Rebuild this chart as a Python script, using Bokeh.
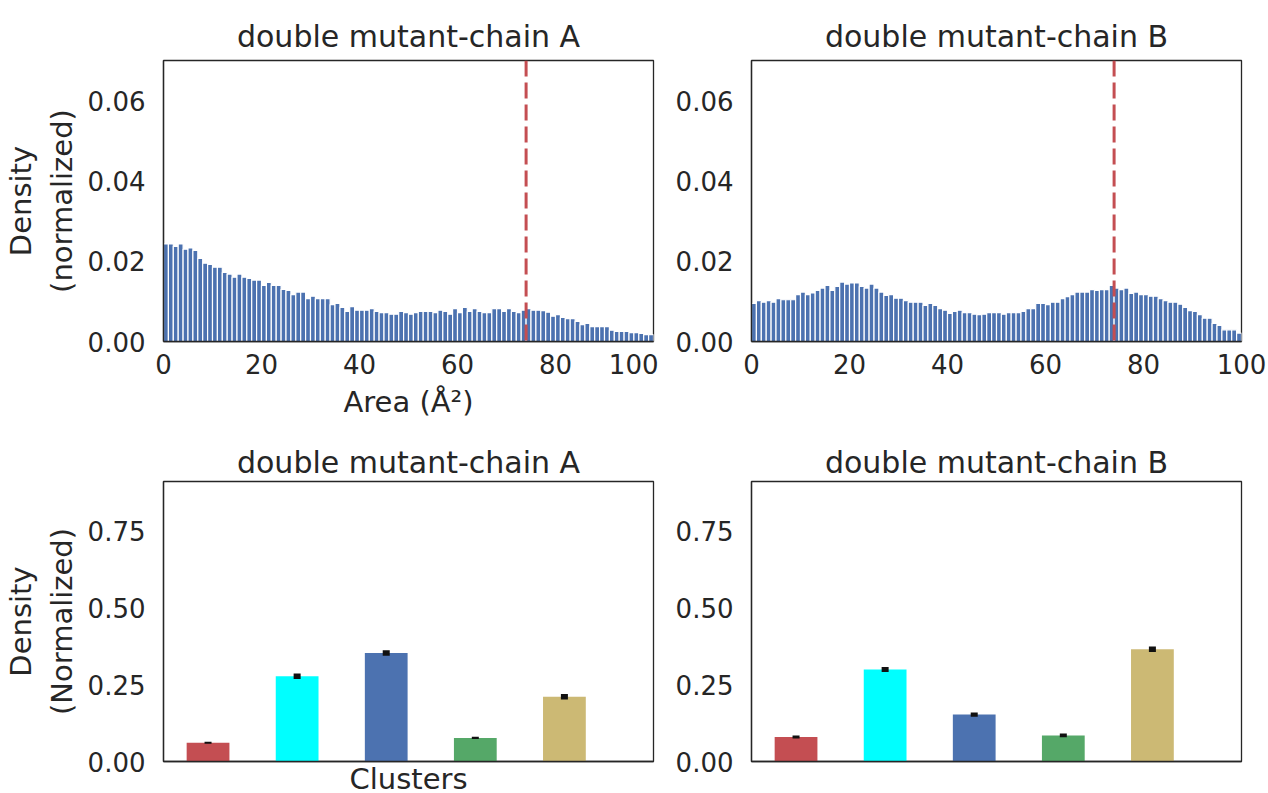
from bokeh.plotting import figure
from bokeh.layouts import column, row
from bokeh.models import Span, FixedTicker, NumeralTickFormatter, Range1d
from bokeh.embed import file_html
from bokeh.resources import INLINE

# ---------------- data ----------------
hist_titles = ["double mutant-chain A", "double mutant-chain B"]
bar_titles = ["double mutant-chain A", "double mutant-chain B"]

area_bins = list(range(100))  # bin left edges, width 1 (Å^2)

density_chain_A = [
    0.0243, 0.0243, 0.0237, 0.0243, 0.0230, 0.0233, 0.0227, 0.0207, 0.0195, 0.0192,
    0.0185, 0.0185, 0.0172, 0.0168, 0.0160, 0.0168, 0.0160, 0.0157, 0.0153, 0.0153,
    0.0140, 0.0147, 0.0140, 0.0140, 0.0130, 0.0127, 0.0117, 0.0123, 0.0123, 0.0107,
    0.0113, 0.0107, 0.0107, 0.0107, 0.0092, 0.0095, 0.0085, 0.0075, 0.0087, 0.0078,
    0.0078, 0.0078, 0.0082, 0.0075, 0.0072, 0.0072, 0.0068, 0.0068, 0.0075, 0.0072,
    0.0068, 0.0072, 0.0075, 0.0075, 0.0075, 0.0072, 0.0078, 0.0075, 0.0068, 0.0082,
    0.0072, 0.0085, 0.0075, 0.0082, 0.0075, 0.0072, 0.0072, 0.0082, 0.0082, 0.0075,
    0.0082, 0.0075, 0.0072, 0.0078, 0.0082, 0.0078, 0.0078, 0.0077, 0.0073, 0.0063,
    0.0067, 0.0060, 0.0057, 0.0057, 0.0050, 0.0042, 0.0045, 0.0037, 0.0037, 0.0037,
    0.0037, 0.0028, 0.0025, 0.0025, 0.0025, 0.0022, 0.0022, 0.0020, 0.0017, 0.0017,
]

density_chain_B = [
    0.0095, 0.0102, 0.0098, 0.0102, 0.0098, 0.0107, 0.0104, 0.0104, 0.0104, 0.0117,
    0.0123, 0.0117, 0.0121, 0.0127, 0.0133, 0.0140, 0.0127, 0.0137, 0.0148, 0.0143,
    0.0146, 0.0146, 0.0137, 0.0133, 0.0143, 0.0133, 0.0123, 0.0115, 0.0117, 0.0108,
    0.0108, 0.0102, 0.0098, 0.0098, 0.0098, 0.0090, 0.0095, 0.0090, 0.0082, 0.0078,
    0.0070, 0.0075, 0.0078, 0.0072, 0.0072, 0.0068, 0.0067, 0.0068, 0.0072, 0.0072,
    0.0072, 0.0068, 0.0072, 0.0072, 0.0072, 0.0075, 0.0082, 0.0082, 0.0095, 0.0095,
    0.0092, 0.0098, 0.0098, 0.0107, 0.0112, 0.0117, 0.0123, 0.0123, 0.0123, 0.0129,
    0.0127, 0.0129, 0.0129, 0.0140, 0.0133, 0.0129, 0.0133, 0.0120, 0.0123, 0.0117,
    0.0117, 0.0113, 0.0113, 0.0107, 0.0102, 0.0098, 0.0098, 0.0093, 0.0085, 0.0077,
    0.0075, 0.0067, 0.0058, 0.0058, 0.0045, 0.0040, 0.0029, 0.0029, 0.0029, 0.0021,
]

cutoff_area = 74

clusters = [0, 1, 2, 3, 4]
cluster_colors = ["#c44e52", "#00ffff", "#4c72b0", "#55a868", "#ccb974"]
cluster_density_A = [0.061, 0.278, 0.354, 0.077, 0.211]
cluster_err_A = [0.003, 0.009, 0.009, 0.004, 0.009]
cluster_density_B = [0.080, 0.300, 0.153, 0.085, 0.366]
cluster_err_B = [0.005, 0.008, 0.007, 0.006, 0.009]

# ---------------- style ----------------
FONT = "DejaVu Sans"
TXT = "#262626"


def style(p, title_standoff, valign):
    p.title.text_font = FONT
    p.title.text_font_size = "30px"
    p.title.text_font_style = "normal"
    p.title.text_color = TXT
    p.title.align = "center"
    p.title.vertical_align = valign
    p.title.standoff = title_standoff
    p.outline_line_color = TXT
    p.outline_line_width = 1.3
    p.xgrid.visible = False
    p.ygrid.visible = False
    for ax in (p.xaxis[0], p.yaxis[0]):
        ax.axis_line_color = TXT
        ax.axis_line_width = 1.3
        ax.major_tick_line_color = None
        ax.minor_tick_line_color = None
        ax.major_label_text_font = FONT
        ax.major_label_text_font_size = "26px"
        ax.major_label_text_color = TXT
        ax.axis_label_text_font = FONT
        ax.axis_label_text_font_size = "29px"
        ax.axis_label_text_font_style = "normal"
        ax.axis_label_text_color = TXT
    p.yaxis[0].major_label_standoff = 12
    p.xaxis[0].major_label_standoff = 6


def hist_fig(title, vals, left_border, right_border, xlabel):
    p = figure(title=title, output_backend="svg", toolbar_location=None,
               frame_width=490, frame_height=281,
               min_border_left=left_border, min_border_right=right_border,
               min_border_top=60, min_border_bottom=77,
               x_range=Range1d(0, 100), y_range=Range1d(0, 0.07))
    centers = [b + 0.5 for b in area_bins]
    p.vbar(x=centers, width=1, top=vals, bottom=0,
           fill_color="#4c72b0", line_color="white", line_width=1.2)
    p.add_layout(Span(location=cutoff_area, dimension="height",
                      line_color="#c44e52", line_width=3, line_dash="16 6"))
    style(p, 10, "top")
    p.xaxis.ticker = FixedTicker(ticks=[0, 20, 40, 60, 80, 100])
    p.yaxis.ticker = FixedTicker(ticks=[0, 0.02, 0.04, 0.06])
    p.yaxis.formatter = NumeralTickFormatter(format="0.00")
    if xlabel:
        p.xaxis.axis_label = "Area (Å²)"
        p.xaxis.axis_label_standoff = 8
        p.yaxis.axis_label = "Density\n(normalized)"
        p.yaxis.axis_label_standoff = 6
    return p


def bar_fig(title, vals, errs, left_border, right_border, labels):
    p = figure(title=title, output_backend="svg", toolbar_location=None,
               frame_width=490, frame_height=280,
               min_border_left=left_border, min_border_right=right_border,
               min_border_top=60, min_border_bottom=35,
               x_range=Range1d(-0.5, 5.0), y_range=Range1d(0, 0.913))
    p.vbar(x=clusters, width=0.48, top=vals, bottom=0,
           fill_color=cluster_colors, line_color=None)
    lo = [v - e for v, e in zip(vals, errs)]
    hi = [v + e for v, e in zip(vals, errs)]
    p.segment(x0=clusters, y0=lo, x1=clusters, y1=hi, line_color="#111111", line_width=7)
    style(p, 4, "bottom")
    p.xaxis.ticker = FixedTicker(ticks=[])
    p.xaxis.major_label_text_font_size = "0px"
    p.xaxis.major_label_standoff = 0
    p.yaxis.ticker = FixedTicker(ticks=[0, 0.25, 0.5, 0.75])
    p.yaxis.formatter = NumeralTickFormatter(format="0.00")
    if labels:
        p.xaxis.axis_label = "Clusters"
        p.xaxis.axis_label_standoff = 0
        p.yaxis.axis_label = "Density\n(Normalized)"
        p.yaxis.axis_label_standoff = 6
    return p


p1 = hist_fig(hist_titles[0], density_chain_A, 162, 5, True)
p2 = hist_fig(hist_titles[1], density_chain_B, 93, 28, False)
p3 = bar_fig(bar_titles[0], cluster_density_A, cluster_err_A, 162, 5, True)
p4 = bar_fig(bar_titles[1], cluster_density_B, cluster_err_B, 93, 28, False)

layout = column(row(p1, p2), row(p3, p4))
open("out.html", "w").write(file_html(layout, INLINE))
